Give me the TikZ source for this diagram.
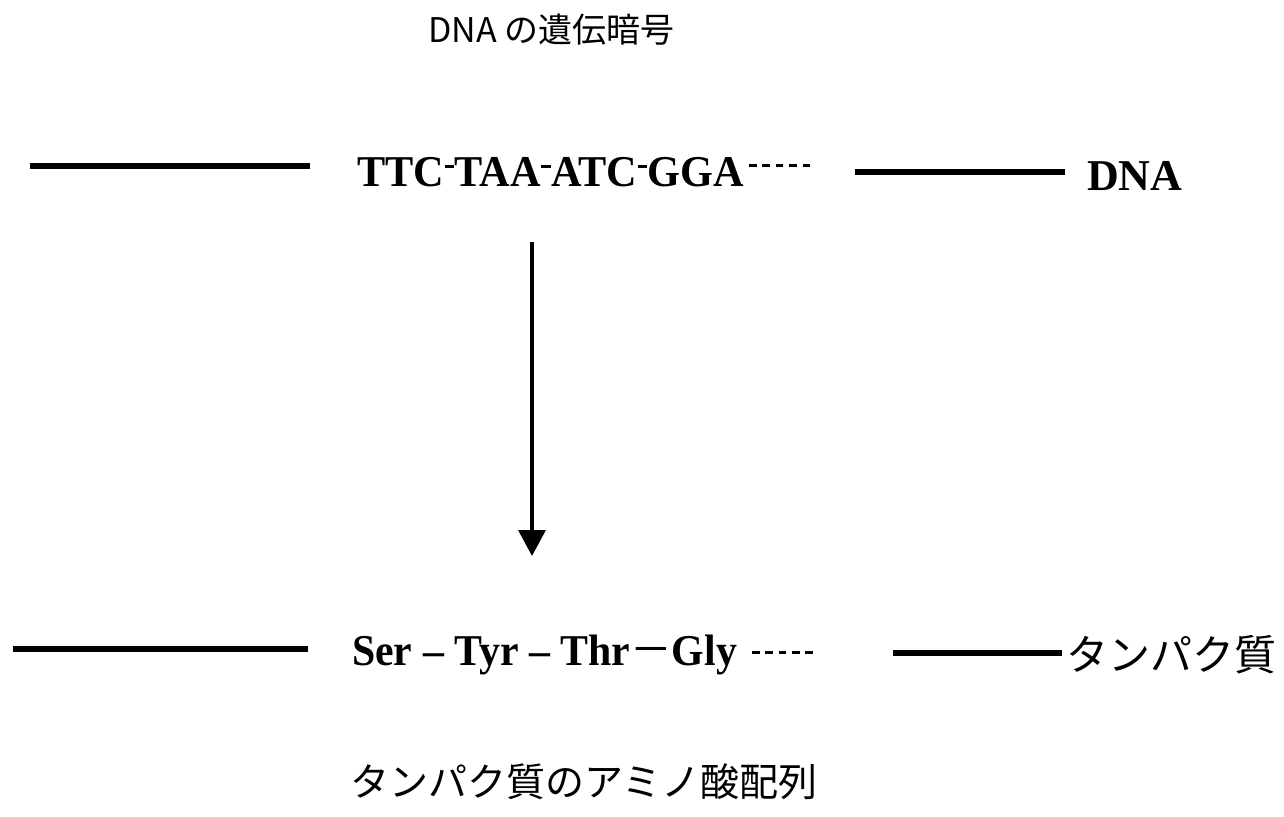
\documentclass[tikz,border=0pt]{standalone}
\usepackage{fontspec}
\setmainfont{Liberation Serif}
\newfontfamily\jpfont{Noto Sans CJK JP}
\usetikzlibrary{arrows.meta}
% short raised hyphen between codons
\newcommand{\hy}{\kern0.5pt\rule[18.5pt]{10pt}{3pt}\kern0.5pt}
% trailing run of five short dashes
\newcommand{\dsh}[1]{\rule[#1]{8pt}{2.6pt}}
\newcommand{\dashrun}[1]{\dsh{#1}\kern6pt\dsh{#1}\kern6pt\dsh{#1}\kern6pt\dsh{#1}\kern6pt\dsh{#1}}
\tikzset{
  bar/.style={line width=6.5pt},
  seq/.style={font=\fontsize{44}{48}\selectfont\bfseries, inner sep=0pt, anchor=base west},
  jp/.style={font=\fontsize{34}{38}\selectfont\jpfont, inner sep=0pt, anchor=base west},
  flow/.style={line width=3.5pt, -{Triangle[width=27pt,length=26pt]}}
}
\begin{document}
\begin{tikzpicture}[x=1pt,y=-1pt]
  \useasboundingbox (0,0) rectangle (1284,816);

  % heading
  \node[jp] (title) at (428,42) {DNA の遺伝暗号};

  % DNA strand
  \draw[bar] (30,166) -- (310,166);
  \node[seq, xscale=0.96] (dna) at (357,186) {TTC\hy TAA\hy ATC\hy GGA\kern5pt\dashrun{19pt}};
  \draw[bar] (855,172) -- (1065,172);
  \node[seq] (dnalabel) at (1087,190) {DNA};

  % translation arrow
  \coordinate (from) at (532,242);
  \coordinate (to) at (532,556);
  \draw[flow] (from) -- (to);

  % protein chain
  \draw[bar] (13,649) -- (308,649);
  \node[seq, xscale=0.95] (prot) at (352,665) {Ser -- Tyr -- Thr{\normalfont\jpfont －}Gly\kern16pt\dashrun{11pt}};
  \draw[bar] (893,653) -- (1062,653);
  \node[jp, font=\fontsize{42}{46}\selectfont\jpfont] (protlabel) at (1066,670) {タンパク質};

  % caption
  \node[jp, font=\fontsize{39}{42}\selectfont\jpfont] (caption) at (350,796) {タンパク質のアミノ酸配列};
\end{tikzpicture}
\end{document}
